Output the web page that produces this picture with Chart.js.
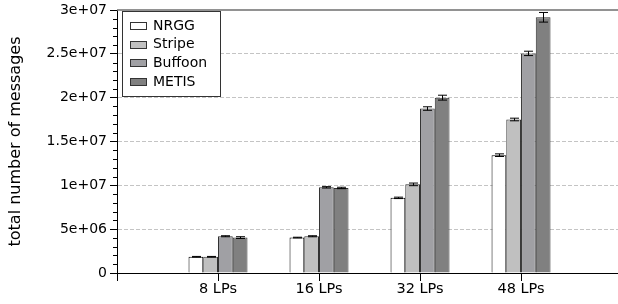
<!DOCTYPE html>
<html>
<head>
<meta charset="utf-8">
<script src="https://cdn.jsdelivr.net/npm/chart.js@4/dist/chart.umd.min.js"></script>
<style>
  html, body { margin: 0; padding: 0; background: #fff; overflow: hidden; }
  #wrap { width: 618px; height: 304px; position: relative; }
</style>
</head>
<body>
<div id="wrap"><canvas id="c" width="618" height="304"></canvas></div>
<script>
// ---- data ----
const categories = ['8 LPs', '16 LPs', '32 LPs', '48 LPs'];
const seriesNames = ['NRGG', 'Stripe', 'Buffoon', 'METIS'];
const nrgg    = [1.85e6, 4.04e6, 8.57e6, 13.44e6];
const stripe  = [1.85e6, 4.19e6, 10.11e6, 17.51e6];
const buffoon = [4.19e6, 9.77e6, 18.76e6, 25.05e6];
const metis   = [4.04e6, 9.70e6, 20.0e6, 29.17e6];
const nrggErr    = [0.04e6, 0.04e6, 0.08e6, 0.15e6];
const stripeErr  = [0.04e6, 0.06e6, 0.15e6, 0.15e6];
const buffoonErr = [0.06e6, 0.08e6, 0.2e6, 0.25e6];
const metisErr   = [0.1e6, 0.08e6, 0.28e6, 0.55e6];
const yTickLabels = ['0', '5e+06', '1e+07', '1.5e+07', '2e+07', '2.5e+07', '3e+07'];
const yTitle = 'total number of messages';

const seriesValues = [nrgg, stripe, buffoon, metis];
const seriesErrors = [nrggErr, stripeErr, buffoonErr, metisErr];
const fills = ['#ffffff', '#c0c0c0', '#a0a0a4', '#808080'];
const edges = ['#000000', '#303030', '#303030', '#303030'];
const FONT = "'DejaVu Sans', Verdana, sans-serif";

const datasets = seriesNames.map((name, i) => ({
  label: name,
  data: seriesValues[i].map((v, j) => ({ x: j + 1, y: v })),
  errors: seriesErrors[i],
  backgroundColor: fills[i],
  borderColor: edges[i],
  borderWidth: 1,
  borderSkipped: 'start',
  categoryPercentage: 0.584,
  barPercentage: 1.0
}));

const MAJOR = 5e6;

const extras = {
  id: 'extras',
  afterDatasetsDraw(chart) {
    const ctx = chart.ctx;
    const ys = chart.scales.y;
    ctx.save();
    ctx.strokeStyle = '#000';
    ctx.lineWidth = 1;
    chart.data.datasets.forEach((ds, i) => {
      const meta = chart.getDatasetMeta(i);
      meta.data.forEach((el, j) => {
        const v = ds.data[j].y, e = ds.errors[j];
        const x = Math.round(el.x) + 0.5;
        const y1 = ys.getPixelForValue(v + e);
        const y2 = ys.getPixelForValue(v - e);
        ctx.beginPath();
        ctx.moveTo(x, y1); ctx.lineTo(x, y2);
        ctx.moveTo(x - 4.5, y1); ctx.lineTo(x + 4.5, y1);
        ctx.moveTo(x - 4.5, y2); ctx.lineTo(x + 4.5, y2);
        ctx.stroke();
      });
    });
    ctx.restore();
  },
  afterDraw(chart) {
    const ctx = chart.ctx;
    const a = chart.chartArea;
    const ys = chart.scales.y;
    ctx.save();
    // top frame line
    ctx.strokeStyle = '#6e6e6e';
    ctx.lineWidth = 1.5;
    ctx.beginPath();
    ctx.moveTo(a.left, a.top); ctx.lineTo(a.right, a.top);
    ctx.stroke();
    // minor y ticks
    ctx.strokeStyle = '#000';
    ctx.lineWidth = 1;
    ys.ticks.forEach(t => {
      if (Math.abs(t.value % MAJOR) > 1) {
        const y = Math.round(ys.getPixelForValue(t.value)) + 0.5;
        ctx.beginPath();
        ctx.moveTo(a.left - 4, y); ctx.lineTo(a.left, y);
        ctx.stroke();
      }
    });
    // legend
    const bx = a.left + 5, by = 11, bw = 98, bh = 85;
    ctx.fillStyle = '#fff';
    ctx.fillRect(bx, by, bw, bh);
    ctx.strokeStyle = '#333';
    ctx.strokeRect(bx + 0.5, by + 0.5, bw, bh);
    ctx.font = '14px ' + FONT;
    ctx.textBaseline = 'middle';
    ctx.textAlign = 'left';
    chart.data.datasets.forEach((ds, i) => {
      const cy = 26 + i * 18.7;
      ctx.fillStyle = ds.backgroundColor;
      ctx.fillRect(bx + 8, Math.round(cy - 4), 16, 7);
      ctx.strokeStyle = '#333';
      ctx.strokeRect(bx + 8.5, Math.round(cy - 4) + 0.5, 16, 7);
      ctx.fillStyle = '#000';
      ctx.fillText(ds.label, bx + 31, cy);
    });
    ctx.restore();
  }
};

new Chart(document.getElementById('c'), {
  type: 'bar',
  data: { datasets },
  plugins: [extras],
  options: {
    responsive: false,
    animation: false,
    layout: { padding: { top: 8, right: 0, bottom: 0, left: 0 } },
    plugins: { legend: { display: false }, tooltip: { enabled: false } },
    scales: {
      x: {
        type: 'linear',
        offset: false,
        min: 0,
        max: 4.96,
        afterBuildTicks(scale) {
          scale.ticks = [0, 1, 2, 3, 4].map(v => ({ value: v }));
        },
        afterFit(scale) { scale.height = 31; },
        ticks: {
          autoSkip: false,
          maxRotation: 0,
          padding: 0,
          color: '#000',
          font: { family: FONT, size: 14.5, lineHeight: 1.1 },
          callback: (v) => (v >= 1 && v <= categories.length) ? categories[v - 1] : ''
        },
        grid: {
          offset: false,
          drawOnChartArea: false,
          color: 'rgba(0,0,0,0)',
          tickColor: '#000',
          tickLength: 8
        },
        border: { display: true, color: '#000', width: 1 }
      },
      y: {
        type: 'linear',
        min: 0,
        max: 3e7,
        afterFit(scale) { scale.width = 117; },
        ticks: {
          stepSize: 1e6,
          autoSkip: false,
          padding: 3,
          color: '#000',
          font: { family: FONT, size: 14, lineHeight: 1.0 },
          callback: (v) => (Math.abs(v % MAJOR) < 1) ? yTickLabels[Math.round(v / MAJOR)] : ''
        },
        grid: {
          color: (c) => {
            const v = c.tick ? c.tick.value : 0;
            return (Math.abs(v % MAJOR) < 1 && v > 0 && v < 3e7) ? '#c4c4c4' : 'rgba(0,0,0,0)';
          },
          tickColor: (c) => {
            const v = c.tick ? c.tick.value : 0;
            return (Math.abs(v % MAJOR) < 1) ? '#000' : 'rgba(0,0,0,0)';
          },
          tickLength: 7
        },
        border: { display: true, color: '#000', width: 1, dash: [4, 2] },
        title: {
          display: true,
          text: yTitle,
          color: '#000',
          font: { family: FONT, size: 16 },
          padding: { top: 6, bottom: 0 }
        }
      }
    }
  }
});
</script>
</body>
</html>
